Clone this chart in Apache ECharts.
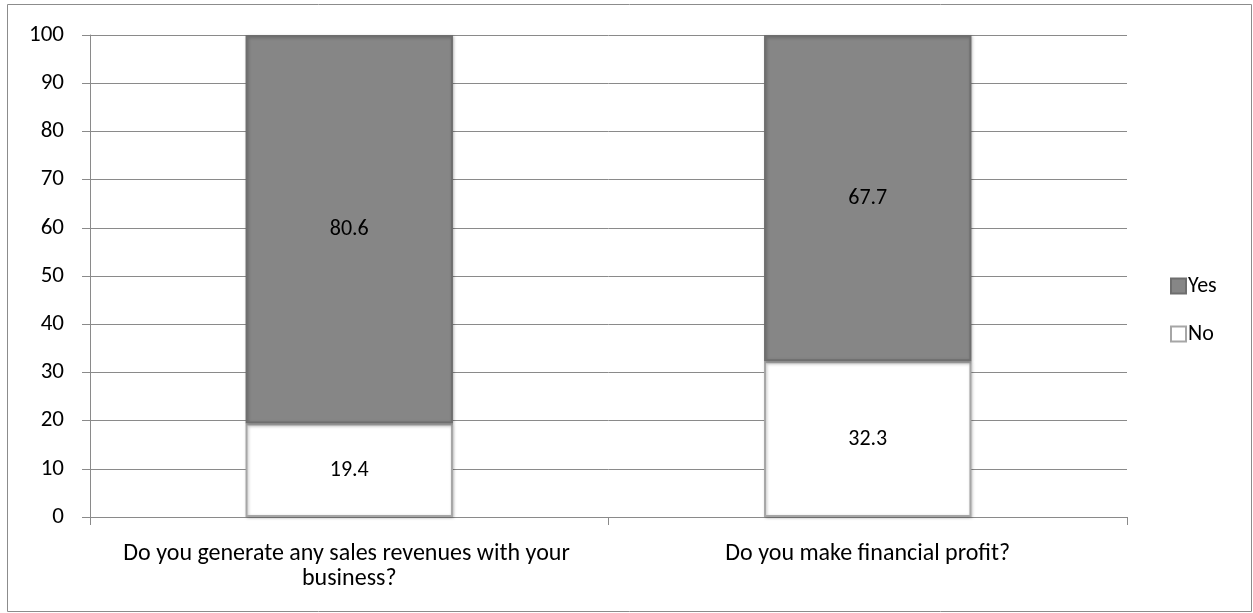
<!DOCTYPE html>
<html>
<head>
<meta charset="utf-8">
<script src="https://cdn.jsdelivr.net/npm/echarts@6/dist/echarts.min.js"></script>
<style>
  html, body { margin: 0; padding: 0; background: #ffffff; }
  #chart { width: 1253px; height: 613px; }
</style>
</head>
<body>
<div id="chart"></div>
<script>
// Survey questions and answer shares (percent)
const categories = [
  'Do you generate any sales revenues with your business?',
  'Do you make financial profit?'
];
const noValues = [19.4, 32.3];
const yesValues = [80.6, 67.7];
const yTicks = [0, 10, 20, 30, 40, 50, 60, 70, 80, 90, 100];

const FONT = 'Carlito, Lato, sans-serif';
const gridGray = '#8a8a8a';

const chart = echarts.init(document.getElementById('chart'));

const valueLabel = {
  show: true,
  position: 'inside',
  fontFamily: FONT,
  fontSize: 22,
  color: '#000',
  formatter: p => p.value.toFixed(1)
};

chart.setOption({
  animation: false,
  graphic: [{
    type: 'rect',
    shape: { x: 7.5, y: 4.5, width: 1244, height: 607 },
    style: { fill: 'none', stroke: '#8c8c8c', lineWidth: 1 },
    silent: true
  }],
  grid: { left: 90, right: 126, top: 35, bottom: 96 },
  legend: {
    orient: 'vertical',
    left: 1170,
    top: 275,
    padding: 0,
    icon: 'rect',
    itemWidth: 15,
    itemHeight: 15,
    itemGap: 26,
    data: ['Yes', 'No'],
    textStyle: {
      fontFamily: FONT,
      fontSize: 22,
      lineHeight: 22,
      color: '#000',
      padding: [0, 0, 0, -3]
    }
  },
  xAxis: {
    type: 'category',
    data: categories,
    axisLine: { lineStyle: { color: gridGray, width: 1 } },
    axisTick: { show: true, length: 8, lineStyle: { color: gridGray } },
    axisLabel: {
      interval: 0,
      margin: 24,
      width: 490,
      overflow: 'break',
      lineHeight: 25,
      fontFamily: FONT,
      fontSize: 24,
      color: '#000'
    }
  },
  yAxis: {
    type: 'value',
    min: yTicks[0],
    max: yTicks[yTicks.length - 1],
    interval: 10,
    axisLine: { show: true, lineStyle: { color: gridGray, width: 1 } },
    axisTick: { show: true, length: 8, lineStyle: { color: gridGray } },
    splitLine: { lineStyle: { color: gridGray, width: 1 } },
    axisLabel: {
      margin: 26,
      fontFamily: FONT,
      fontSize: 23,
      color: '#000'
    }
  },
  series: [
    {
      name: 'No',
      type: 'bar',
      stack: 'total',
      barWidth: '40%',
      data: noValues,
      itemStyle: {
        color: '#ffffff',
        borderColor: '#a6a6a6',
        borderWidth: 2,
        shadowColor: 'rgba(0,0,0,0.25)',
        shadowBlur: 3,
        shadowOffsetX: 1,
        shadowOffsetY: 1
      },
      label: valueLabel
    },
    {
      name: 'Yes',
      type: 'bar',
      stack: 'total',
      barWidth: '40%',
      data: yesValues,
      itemStyle: {
        color: '#868686',
        borderColor: '#6e6e6e',
        borderWidth: 2,
        shadowColor: 'rgba(0,0,0,0.25)',
        shadowBlur: 3,
        shadowOffsetX: 1,
        shadowOffsetY: 1
      },
      label: valueLabel
    }
  ]
});
</script>
</body>
</html>
